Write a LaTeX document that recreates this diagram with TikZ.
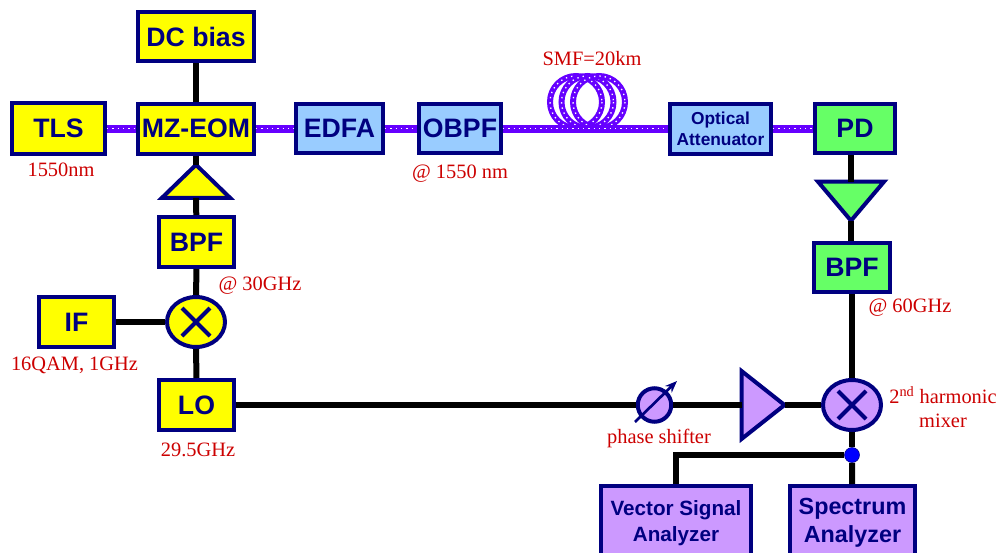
\documentclass[tikz,border=0pt]{standalone}
\usepackage{fontspec}
\setmainfont{Liberation Sans}
\newfontfamily\labelfont{Liberation Serif}
\usetikzlibrary{shapes.geometric,arrows.meta}
\definecolor{rimblue}{RGB}{0,0,128}
\definecolor{fibre}{RGB}{102,0,255}
\definecolor{labelred}{RGB}{204,0,0}
\definecolor{yellowfill}{RGB}{255,255,0}
\definecolor{bluefill}{RGB}{153,204,255}
\definecolor{greenfill}{RGB}{102,255,102}
\definecolor{violetfill}{RGB}{204,153,255}
\begin{document}
\begin{tikzpicture}[x=0.75pt,y=-0.75pt,
part/.style={draw=rimblue,line width=3pt,text=rimblue,align=center,inner sep=0pt},
unit/.style 2 args={part,shape=rectangle,minimum width=#1*0.75pt,minimum height=#2*0.75pt},
mixer/.style={part,shape=ellipse,minimum width=58*0.75pt,minimum height=50*0.75pt,path picture={
  \draw[rimblue,line width=3pt] (path picture bounding box.center)+(-10.5pt,-10.5pt) -- +(10.5pt,10.5pt);
  \draw[rimblue,line width=3pt] (path picture bounding box.center)+(-10.5pt,10.5pt) -- +(10.5pt,-10.5pt);}},
amp/.style n args={3}{part,outer sep=0pt,shape=isosceles triangle,isosceles triangle stretches,shape border rotate=#1,minimum width=#2*0.75pt,minimum height=#3*0.75pt},
wire/.style={line width=4.5pt,black},
fiber/.style={line width=6pt,fibre,postaction={draw=white,line width=1pt,dash pattern=on 1pt off 3pt}},
coil/.style={line width=4.5pt,fibre,postaction={draw=white,line width=1pt,dash pattern=on 1pt off 3pt}},
note/.style={font=\labelfont\fontsize{15.3}{18}\selectfont,text=labelred,align=center,inner sep=0pt}]
\useasboundingbox (0,0) rectangle (1000,553);

\def\bigtxt{\fontsize{20}{22}\selectfont\bfseries}
\def\smalltxt{\fontsize{13}{16}\selectfont\bfseries}

% transmitter
\node[unit={116}{49},fill=yellowfill,font=\bigtxt] (DC) at (196,36.5) {DC bias};
\node[unit={93}{51},fill=yellowfill,font=\bigtxt] (TLS) at (58.5,128.5) {TLS};
\node[unit={116}{50},fill=yellowfill,font=\bigtxt] (MZ) at (196,128.5) {MZ-EOM};
\node[amp={90}{68}{33},fill=yellowfill] (ampY) at (196,184) {};
\node[unit={75}{50},fill=yellowfill,font=\bigtxt] (BPFa) at (196.5,242) {BPF};
\node[mixer,fill=yellowfill] (mixA) at (196,322) {};
\node[unit={75}{50},fill=yellowfill,font=\bigtxt] (IF) at (76.5,322) {IF};
\node[unit={75}{50},fill=yellowfill,font=\bigtxt] (LO) at (196.5,405) {LO};

% optical path
\node[unit={87}{49},fill=bluefill,font=\bigtxt] (EDFA) at (339.5,128.5) {EDFA};
\node[unit={82}{49},fill=bluefill,font=\bigtxt] (OBPF) at (460,128.5) {OBPF};
\node[unit={101}{50},fill=bluefill,font=\smalltxt] (ATT) at (720.5,128.5) {Optical\\Attenuator};
\node[unit={80}{49},fill=greenfill,font=\bigtxt] (PD) at (855,128.5) {PD};

% receiver
\node[amp={-90}{66}{39},fill=greenfill] (ampG) at (851,197) {};
\node[unit={76}{49},fill=greenfill,font=\bigtxt] (BPFb) at (852,267.5) {BPF};
\node[mixer,fill=violetfill] (mixB) at (852,405) {};
\node[amp={0}{68}{43},fill=violetfill] (ampV) at (758,405) {};
\node[part,shape=circle,fill=violetfill,minimum size=33.5*0.75pt] (phase) at (654.5,405) {};
\node[circle,fill=blue,draw=rimblue,line width=0.4pt,inner sep=0pt,minimum size=15*0.75pt] (tap) at (852,455) {};
\coordinate (corner) at (676,455);
\node[unit={150}{74},fill=violetfill,font=\fontsize{15.5}{19}\selectfont\bfseries] (VSA) at (676,523) {Vector Signal\\Analyzer};
\node[unit={125}{74},fill=violetfill,font=\fontsize{17.5}{21}\selectfont\bfseries] (SA) at (852.5,523) {Spectrum\\Analyzer};

% fibre loops
\draw[coil] (576,102) ellipse (26 and 26);
\draw[coil] (587.5,102) ellipse (26 and 26);
\draw[coil] (599,102) ellipse (26 and 26);

% connectors
\draw[fiber] (TLS) -- (MZ);
\draw[fiber] (MZ) -- (EDFA);
\draw[fiber] (EDFA) -- (OBPF);
\draw[fiber] (OBPF) -- (ATT);
\draw[fiber] (ATT) -- (PD);
\draw[wire] (DC) -- (MZ);
\draw[wire] (MZ) -- (ampY);
\draw[wire] (ampY) -- (BPFa);
\draw[wire] (BPFa) -- (mixA);
\draw[wire] (IF) -- (mixA);
\draw[wire] (mixA) -- (LO);
\draw[wire] (LO) -- (phase);
\draw[wire] (phase) -- (ampV);
\draw[wire] (ampV) -- (mixB);
\draw[wire] (PD.south -| ampG) -- (ampG);
\draw[wire] (ampG) -- (BPFb.north -| ampG);
\draw[wire] (BPFb) -- (mixB);
\draw[wire] (mixB) -- (tap);
\draw[wire] (tap) -- (SA);
\draw[wire] (tap) -- (corner) -- (VSA);

% phase shifter arrow
\coordinate (arrA) at (635,422);
\coordinate (arrB) at (677,381);
\draw[rimblue,line width=2pt,-{Stealth[length=9pt,width=7pt]}] (arrA) -- (arrB);

% labels
\node[note] (lbTLS) at (61,170) {1550nm};
\node[note] (lbOBPF) at (460,174) {@ 1550 nm};
\node[note] (lbSMF) at (592,59) {SMF=20km};
\node[note] (lbBPFa) at (260,286) {@ 30GHz};
\node[note] (lbBPFb) at (910,308) {@ 60GHz};
\node[note] (lbIF) at (74.5,365) {16QAM, 1GHz};
\node[note] (lbLO) at (198,449.5) {29.5GHz};
\node[note] (lbphase) at (659,438) {phase shifter};
\node[note] (lbmix) at (943,407) {2\textsuperscript{nd} harmonic\\mixer};
\end{tikzpicture}
\end{document}
